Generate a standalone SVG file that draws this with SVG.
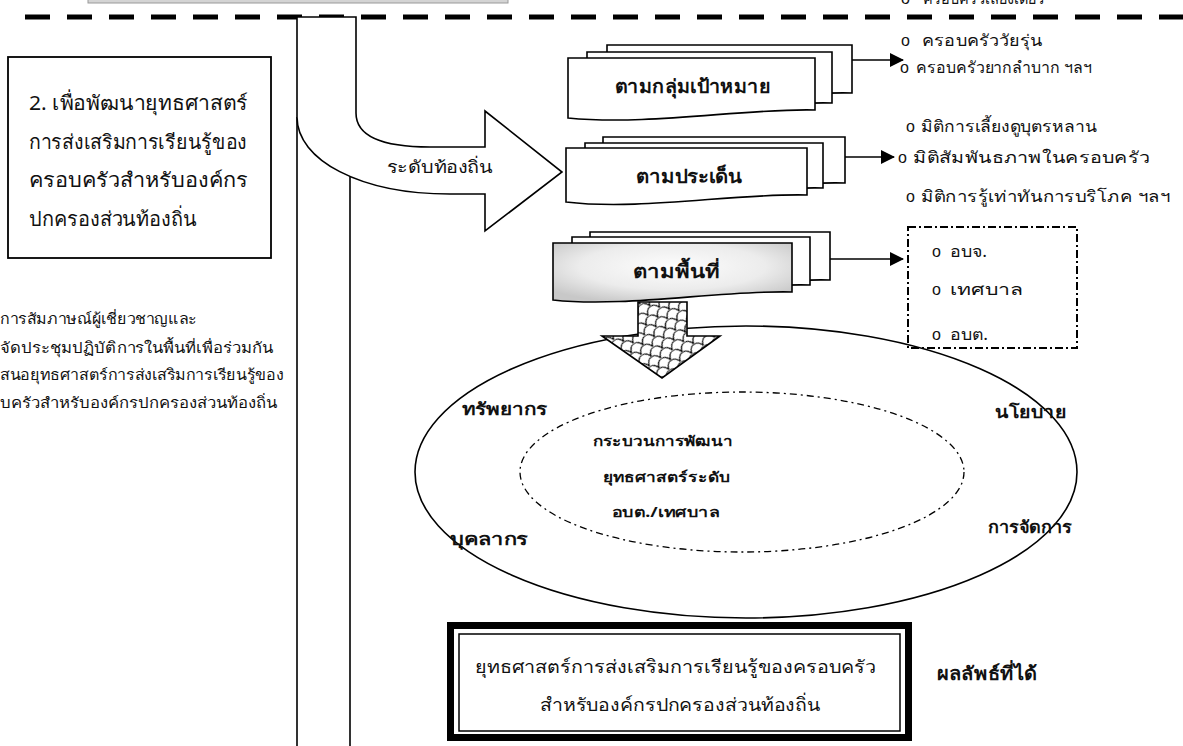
<svg xmlns="http://www.w3.org/2000/svg" width="1183" height="746" viewBox="0 0 1183 746">
<defs>
<style>
.th{font-family:"Noto Sans","DejaVu Sans",sans-serif;fill:#111}
.b{font-weight:bold}
.bul{font-family:"Liberation Sans",sans-serif;fill:#111;font-size:16px}
.ln{stroke:#000;stroke-width:1.6;fill:none}
.doc{fill:#fff;stroke:#000;stroke-width:1.6}
</style>
<marker id="ah" markerWidth="14" markerHeight="14" refX="13" refY="7" orient="auto" markerUnits="userSpaceOnUse"><path d="M0,0 L14,7 L0,14 Z" fill="#000"/></marker>
<pattern id="scale" width="14" height="14" patternUnits="userSpaceOnUse" patternTransform="rotate(-35)">
<rect width="14" height="14" fill="#fff"/>
<path d="M0,14 C3,6 11,6 14,14 M-7,7 C-4,-1 4,-1 7,7 M7,7 C10,-1 18,-1 21,7" fill="none" stroke="#000" stroke-width="1.2"/>
</pattern>
<radialGradient id="gfill" cx="0.5" cy="0.4" r="0.65">
<stop offset="0" stop-color="#fdfdfd"/>
<stop offset="0.6" stop-color="#ececec"/>
<stop offset="1" stop-color="#c8c8c8"/>
</radialGradient>
<clipPath id="clipB"><rect x="910" y="300" width="160" height="41"/></clipPath>
</defs>

<rect width="1183" height="746" fill="#fff"/>

<g id="top-frame">
<rect x="88" y="-4" width="420" height="7" fill="#d4d4d4" stroke="#9a9a9a" stroke-width="1"/>
<line x1="25" y1="17" x2="1183" y2="17" stroke="#000" stroke-width="5" stroke-dasharray="25 17"/>
<text class="bul" x="901" y="4">o</text>
<text class="th" x="923" y="4" font-size="16" textLength="121" lengthAdjust="spacingAndGlyphs">ครอบครัวเลี้ยงเดี่ยว</text>
</g>

<g id="connectors">
<path class="ln" d="M297,117 V746 M350,173 V746"/>
<path d="M297,17 V117 C297,160 360,194 450,194 L485,194 L485,231 L562,172 L485,111 L485,147 L430,147 C385,147 356,138 356,113 V17 Z" fill="#fff" stroke="#000" stroke-width="1.6"/>
<line class="ln" x1="852" y1="60" x2="903" y2="60" marker-end="url(#ah)"/>
<line class="ln" x1="845" y1="157" x2="894" y2="157" marker-end="url(#ah)"/>
<line class="ln" x1="830" y1="259" x2="903" y2="259" marker-end="url(#ah)"/>
</g>

<g id="objective-box">
<rect x="8" y="57" width="263" height="201" fill="#fff" stroke="#000" stroke-width="1.8"/>
<text class="th" font-size="20" x="29" y="110" textLength="219" lengthAdjust="spacingAndGlyphs">2. เพื่อพัฒนายุทธศาสตร์</text>
<text class="th" font-size="20" x="29" y="149" textLength="218" lengthAdjust="spacingAndGlyphs">การส่งเสริมการเรียนรู้ของ</text>
<text class="th" font-size="20" x="29" y="187" textLength="219" lengthAdjust="spacingAndGlyphs">ครอบครัวสำหรับองค์กร</text>
<text class="th" font-size="20" x="29" y="226" textLength="168" lengthAdjust="spacingAndGlyphs">ปกครองส่วนท้องถิ่น</text>
</g>

<g id="method-text">
<text class="th" font-size="15" x="0" y="324" textLength="197" lengthAdjust="spacingAndGlyphs">การสัมภาษณ์ผู้เชี่ยวชาญและ</text>
<text class="th" font-size="15" x="0" y="353" textLength="273" lengthAdjust="spacingAndGlyphs">จัดประชุมปฏิบัติการในพื้นที่เพื่อร่วมกัน</text>
<text class="th" font-size="15" x="0" y="380" textLength="283" lengthAdjust="spacingAndGlyphs">สนอยุทธศาสตร์การส่งเสริมการเรียนรู้ของ</text>
<text class="th" font-size="15" x="0" y="408" textLength="277" lengthAdjust="spacingAndGlyphs">บครัวสำหรับองค์กรปกครองส่วนท้องถิ่น</text>
</g>

<g id="local-level-label">
<text class="th" font-size="17" x="387" y="173" textLength="106" lengthAdjust="spacingAndGlyphs">ระดับท้องถิ่น</text>
</g>

<g id="box-target">
<path class="doc" d="M607,45 H852 V93 C780,91 685,109 607,101 Z"/>
<path class="doc" d="M587,52 H832 V103 C760,101 665,119 587,111 Z"/>
<path class="doc" d="M568,58 H815 V110 C745,108 650,126 568,118 Z"/>
<text class="th b" font-size="19" x="615" y="93" textLength="155" lengthAdjust="spacingAndGlyphs">ตามกลุ่มเป้าหมาย</text>
</g>

<g id="box-issue">
<path class="doc" d="M603,137 H845 V183 C770,181 680,198 603,190 Z"/>
<path class="doc" d="M585,143 H823 V188 C752,186 660,204 585,195 Z"/>
<path class="doc" d="M566,148 H807 V195 C735,193 640,211 566,202 Z"/>
<text class="th b" font-size="19" x="636" y="183" textLength="106" lengthAdjust="spacingAndGlyphs">ตามประเด็น</text>
</g>

<g id="box-area">
<path class="doc" d="M590,232 H830 V280 C760,278 665,295 590,288 Z"/>
<path class="doc" d="M572,237 H810 V285 C740,283 645,300 572,293 Z"/>
<path d="M553,243 H792 V292 C720,290 625,308 553,300 Z" fill="url(#gfill)" stroke="#000" stroke-width="1.6"/>
<text class="th b" font-size="19" x="633" y="278" textLength="87" lengthAdjust="spacingAndGlyphs">ตามพื้นที่</text>
</g>

<g id="list-target">
<text class="bul" x="901" y="46">o</text>
<text class="th" font-size="16" x="922" y="46" textLength="120" lengthAdjust="spacingAndGlyphs">ครอบครัววัยรุ่น</text>
<text class="bul" x="900" y="73">o</text>
<text class="th" font-size="16" x="916" y="73" textLength="176" lengthAdjust="spacingAndGlyphs">ครอบครัวยากลำบาก ฯลฯ</text>
</g>

<g id="list-issue">
<text class="bul" x="906" y="132">o</text>
<text class="th" font-size="16" x="921" y="132" textLength="176" lengthAdjust="spacingAndGlyphs">มิติการเลี้ยงดูบุตรหลาน</text>
<text class="bul" x="898" y="163">o</text>
<text class="th" font-size="16" x="913" y="163" textLength="237" lengthAdjust="spacingAndGlyphs">มิติสัมพันธภาพในครอบครัว</text>
<text class="bul" x="906" y="202">o</text>
<text class="th" font-size="16" x="921" y="202" textLength="249" lengthAdjust="spacingAndGlyphs">มิติการรู้เท่าทันการบริโภค ฯลฯ</text>
</g>

<g id="list-area">
<rect x="908" y="227" width="169" height="121" fill="none" stroke="#000" stroke-width="2" stroke-dasharray="8 3 2 3"/>
<text class="bul" x="932" y="257">o</text>
<text class="th" font-size="16" x="950" y="257" textLength="37" lengthAdjust="spacingAndGlyphs">อบจ.</text>
<text class="bul" x="932" y="295">o</text>
<text class="th" font-size="16" x="950" y="295" textLength="73" lengthAdjust="spacingAndGlyphs">เทศบาล</text>
<g clip-path="url(#clipB)">
<text class="bul" x="932" y="340">o</text>
<text class="th" font-size="16" x="950" y="340" textLength="38" lengthAdjust="spacingAndGlyphs">อบต.</text>
</g>
</g>

<g id="process-ellipse">
<ellipse cx="746" cy="472" rx="331" ry="146" fill="none" stroke="#000" stroke-width="1.6"/>
<ellipse cx="742" cy="472" rx="222" ry="80" fill="none" stroke="#000" stroke-width="1.3" stroke-dasharray="7 4 2 4"/>
<text class="th b" font-size="17" x="462" y="415" textLength="85" lengthAdjust="spacingAndGlyphs">ทรัพยากร</text>
<text class="th b" font-size="17" x="450" y="545" textLength="78" lengthAdjust="spacingAndGlyphs">บุคลากร</text>
<text class="th b" font-size="17" x="995" y="418" textLength="71" lengthAdjust="spacingAndGlyphs">นโยบาย</text>
<text class="th b" font-size="17" x="988" y="533" textLength="84" lengthAdjust="spacingAndGlyphs">การจัดการ</text>
<text class="th b" font-size="14" x="593" y="446" textLength="140" lengthAdjust="spacingAndGlyphs">กระบวนการพัฒนา</text>
<text class="th b" font-size="14" x="603" y="482" textLength="127" lengthAdjust="spacingAndGlyphs">ยุทธศาสตร์ระดับ</text>
<text class="th b" font-size="14" x="612" y="517" textLength="108" lengthAdjust="spacingAndGlyphs">อบต./เทศบาล</text>
</g>

<g id="down-arrow">
<path d="M638,302 V336 H602 L662,378 L720,336 H687 V302 Z" fill="url(#scale)" stroke="#000" stroke-width="1.6"/>
</g>

<g id="result-box">
<rect x="450.5" y="625.5" width="458" height="112" fill="#fff" stroke="#000" stroke-width="7"/>
<rect x="459" y="634" width="441" height="97" fill="none" stroke="#000" stroke-width="1.5"/>
<text class="th" font-size="18" x="475" y="673" textLength="401" lengthAdjust="spacingAndGlyphs">ยุทธศาสตร์การส่งเสริมการเรียนรู้ของครอบครัว</text>
<text class="th" font-size="18" x="540" y="711" textLength="280" lengthAdjust="spacingAndGlyphs">สำหรับองค์กรปกครองส่วนท้องถิ่น</text>
</g>

<g id="result-label">
<text class="th b" font-size="19" x="937" y="680" textLength="100" lengthAdjust="spacingAndGlyphs">ผลลัพธ์ที่ได้</text>
</g>
</svg>
